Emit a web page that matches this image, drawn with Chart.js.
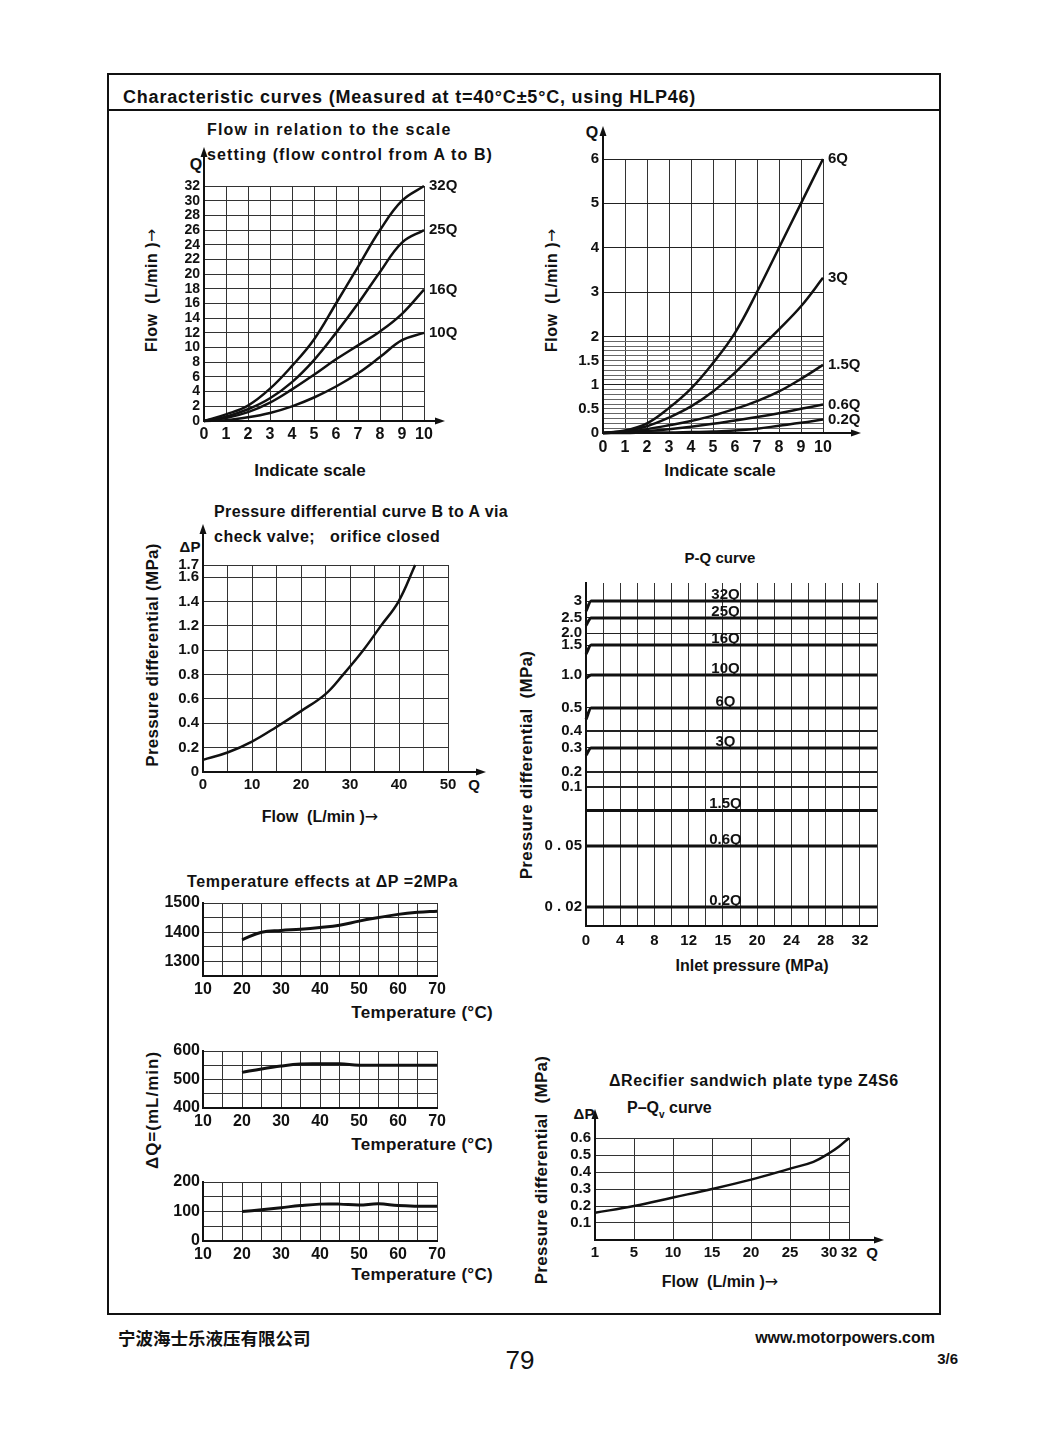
<!DOCTYPE html>
<html>
<head>
<meta charset="utf-8">
<script src="https://cdn.jsdelivr.net/npm/chart.js@4.4.0/dist/chart.umd.min.js"></script>
<style>
body{margin:0;background:#fff;width:1060px;height:1438px;position:relative;font-family:"Liberation Sans",Arial,sans-serif;color:#111;overflow:hidden;}
.frame{position:absolute;left:107px;top:73px;width:830px;height:1238px;border:2px solid #111;}
.sep{position:absolute;left:107px;top:109px;width:834px;border-top:2px solid #111;}
.t{position:absolute;font-weight:bold;font-size:15px;white-space:nowrap;line-height:1;}
.c{transform:translate(-50%,-50%);}
.l{transform:translateY(-50%);}
.rt{transform:translate(-100%,-50%);}
.v{transform:translate(-50%,-50%) rotate(-90deg);}
.ar{font-family:"DejaVu Sans",sans-serif;font-weight:normal;}
canvas{position:absolute;}
</style>
</head>
<body>
<div class="frame"></div>
<div class="sep"></div>
<div class="t l" style="left:123px;top:97px;font-size:18px;letter-spacing:0.8px;">Characteristic curves (Measured at t=40°C±5°C, using HLP46)</div>

<div class="t l" style="left:207px;top:130px;font-size:16px;letter-spacing:1.2px;">Flow in relation to the scale</div>
<div class="t l" style="left:207px;top:155px;font-size:16px;letter-spacing:1.1px;">setting (flow control from A to B)</div>
<div class="t c" style="left:196px;top:165px;font-size:16px;">Q</div>
<div class="t v" style="left:152px;top:290px;font-size:16px;letter-spacing:0.5px;">Flow&nbsp; (L/min )<span class="ar">→</span></div>
<div class="t c" style="left:310px;top:470px;font-size:17px;">Indicate scale</div>

<div class="t c" style="left:592px;top:133px;font-size:16px;">Q</div>
<div class="t v" style="left:552px;top:290px;font-size:16px;letter-spacing:0.5px;">Flow&nbsp; (L/min )<span class="ar">→</span></div>
<div class="t c" style="left:720px;top:470px;font-size:17px;">Indicate scale</div>

<div class="t l" style="left:214px;top:512px;font-size:16px;letter-spacing:0.4px;">Pressure differential curve B to A via</div>
<div class="t l" style="left:214px;top:537px;font-size:16px;letter-spacing:0.5px;">check valve;&nbsp;&nbsp; orifice closed</div>
<div class="t c" style="left:190px;top:546px;">ΔP</div>
<div class="t v" style="left:152px;top:655px;font-size:17px;letter-spacing:0.3px;">Pressure differential (MPa)</div>
<div class="t c" style="left:320px;top:817px;font-size:16px;">Flow&nbsp; (L/min )<span class="ar">→</span></div>
<div class="t c" style="left:474px;top:784px;">Q</div>

<div class="t c" style="left:720px;top:557px;">P-Q curve</div>
<div class="t v" style="left:526px;top:765px;font-size:17px;letter-spacing:0.3px;">Pressure differential&nbsp; (MPa)</div>
<div class="t c" style="left:752px;top:966px;font-size:16px;">Inlet pressure (MPa)</div>

<div class="t l" style="left:187px;top:882px;font-size:16px;letter-spacing:0.6px;">Temperature effects at ΔP =2MPa</div>
<div class="t rt" style="left:493px;top:1012px;font-size:17px;letter-spacing:0.3px;">Temperature (°C)</div>
<div class="t rt" style="left:493px;top:1144px;font-size:17px;letter-spacing:0.3px;">Temperature (°C)</div>
<div class="t rt" style="left:493px;top:1274px;font-size:17px;letter-spacing:0.3px;">Temperature (°C)</div>
<div class="t v" style="left:152px;top:1110px;font-size:17px;letter-spacing:1px;">ΔQ=(mL/min)</div>

<div class="t l" style="left:609px;top:1081px;font-size:16px;letter-spacing:0.6px;">ΔRecifier sandwich plate type Z4S6</div>
<div class="t l" style="left:627px;top:1110px;font-size:16px;">P–Q<sub style="font-size:10px;">v</sub> curve</div>
<div class="t c" style="left:584px;top:1113px;">ΔP</div>
<div class="t v" style="left:541px;top:1170px;font-size:17px;letter-spacing:0.3px;">Pressure differential&nbsp; (MPa)</div>
<div class="t c" style="left:720px;top:1282px;font-size:16px;">Flow&nbsp; (L/min )<span class="ar">→</span></div>
<div class="t c" style="left:872px;top:1252px;">Q</div>

<div class="t l" style="left:118px;top:1338px;font-size:17.5px;font-family:'Noto Sans CJK SC',sans-serif;">宁波海士乐液压有限公司</div>
<div class="t c" style="left:520px;top:1360px;font-size:26px;font-weight:normal;">79</div>
<div class="t rt" style="left:935px;top:1338px;font-size:16px;">www.motorpowers.com</div>
<div class="t rt" style="left:958px;top:1358px;font-size:15px;">3/6</div>

<canvas id="c1"></canvas>
<canvas id="c2"></canvas>
<canvas id="c3"></canvas>
<canvas id="c4"></canvas>
<canvas id="c5"></canvas>
<canvas id="c6"></canvas>
<canvas id="c7"></canvas>
<canvas id="c8"></canvas>

<script>
// flow vs indicate scale, large valve sizes
const scaleSteps = [0, 1, 2, 3, 4, 5, 6, 7, 8, 9, 10];
const flow32Q = [0, 0.9, 2.1, 4.4, 7.5, 11.1, 16, 21, 26, 30, 32];
const flow25Q = [0, 0.6, 1.6, 3.1, 5.3, 8.3, 12, 16, 20.3, 24.3, 26];
const flow16Q = [0, 0.4, 1.2, 2.5, 4.3, 6.3, 8.4, 10.3, 12.2, 14.6, 17.9];
const flow10Q = [0, 0.1, 0.5, 1.1, 2.0, 3.2, 4.7, 6.5, 8.7, 11.0, 12];
const flowTicks = [0, 2, 4, 6, 8, 10, 12, 14, 16, 18, 20, 22, 24, 26, 28, 30, 32];

// flow vs indicate scale, small valve sizes
const flow6Q = [0, 0.05, 0.2, 0.52, 0.92, 1.45, 2.08, 3.0, 4.0, 5.0, 6.0];
const flow3Q = [0, 0.04, 0.14, 0.32, 0.55, 0.86, 1.25, 1.7, 2.16, 2.68, 3.32];
const flow1_5Q = [0, 0.02, 0.08, 0.16, 0.25, 0.36, 0.5, 0.66, 0.86, 1.12, 1.41];
const flow0_6Q = [0, 0.01, 0.04, 0.08, 0.13, 0.19, 0.26, 0.33, 0.41, 0.5, 0.59];
const flow0_2Q = [0, 0, 0.01, 0.01, 0.02, 0.03, 0.05, 0.09, 0.15, 0.21, 0.28];
const smallFlowLabels = [0, 0.5, 1, 1.5, 2, 3, 4, 5, 6];

// check valve B to A
const checkFlow = [0, 5, 10, 15, 20, 25, 28.6, 32.7, 36.3, 39.9, 43.3];
const checkDp = [0.1, 0.16, 0.25, 0.37, 0.5, 0.64, 0.8, 1.0, 1.2, 1.4, 1.7];
const checkDpTicks = [0, 0.2, 0.4, 0.6, 0.8, 1.0, 1.2, 1.4, 1.6, 1.7];

// P-Q curve
const pqNames = ['32Q', '25Q', '16Q', '10Q', '6Q', '3Q', '1.5Q', '0.6Q', '0.2Q'];
const pqLevels = [3, 2.5, 1.5, 1.0, 0.5, 0.3, 0.08, 0.05, 0.02];
const pqStart = [2.7, 2.25, 1.35, 0.95, 0.45, 0.27, 0.08, 0.05, 0.02];
const pqInlet = [0, 0.6, 34];
const pqTicks = [0.02, 0.05, 0.1, 0.2, 0.3, 0.4, 0.5, 1.0, 1.5, 2.0, 2.5, 3];
const pqTickText = ['0 . 02', '0 . 05', '0.1', '0.2', '0.3', '0.4', '0.5', '1.0', '1.5', '2.0', '2.5', '3'];
const inletTicks = [0, 4, 8, 12, 16, 20, 24, 28, 32];
const inletTickText = ['0', '4', '8', '12', '15', '20', '24', '28', '32'];

// temperature effects
const temps = [20, 25, 30, 35, 40, 45, 50, 55, 60, 65, 70];
const flowAt2MPa = [1374, 1400, 1406, 1410, 1416, 1424, 1438, 1450, 1461, 1468, 1472];
const leakUpper = [525, 537, 547, 554, 555, 555, 550, 550, 550, 550, 550];
const leakLower = [100, 106, 113, 120, 125, 125, 122, 126, 120, 118, 118];

// rectifier plate Z4S6
const plateFlow = [1, 5, 10, 15, 20, 25, 28, 30, 31, 32];
const plateDp = [0.16, 0.2, 0.25, 0.3, 0.355, 0.42, 0.46, 0.51, 0.55, 0.6];
const plateFlowTicks = [1, 5, 10, 15, 20, 25, 30, 32];
const plateDpTicks = [0, 0.1, 0.2, 0.3, 0.4, 0.5, 0.6];

Chart.defaults.font.family = '"Liberation Sans", Arial, sans-serif';
Chart.defaults.font.weight = 'bold';
Chart.defaults.font.size = 15;
Chart.defaults.color = '#111';

// scale that maps values through a list of [value, fraction] knots
class PiecewiseScale extends Chart.LinearScale {
    getPixelForValue(value) {
        const k = this.options.knots;
        let f = k[0][1];
        if (value >= k[k.length - 1][0]) f = k[k.length - 1][1];
        else if (value > k[0][0]) {
            for (let i = 1; i < k.length; i++) {
                if (value <= k[i][0]) {
                    const t = (value - k[i - 1][0]) / (k[i][0] - k[i - 1][0]);
                    f = k[i - 1][1] + t * (k[i][1] - k[i - 1][1]);
                    break;
                }
            }
        }
        return this.getPixelForDecimal(f);
    }
    getValueForPixel(pixel) {
        const k = this.options.knots;
        const f = this.getDecimalForPixel(pixel);
        for (let i = 1; i < k.length; i++) {
            if (f <= k[i][1]) {
                const t = (f - k[i - 1][1]) / (k[i][1] - k[i - 1][1]);
                return k[i - 1][0] + t * (k[i][0] - k[i - 1][0]);
            }
        }
        return k[k.length - 1][0];
    }
}
PiecewiseScale.id = 'piecewise';
PiecewiseScale.defaults = Chart.LinearScale.defaults;
Chart.register(PiecewiseScale);

const seriesLabels = {
    id: 'seriesLabels',
    afterDatasetsDraw(chart, args, opts) {
        if (!opts.mode) return;
        const ctx = chart.ctx;
        ctx.save();
        ctx.font = 'bold 15px "Liberation Sans", Arial, sans-serif';
        ctx.fillStyle = '#111';
        chart.data.datasets.forEach((ds, i) => {
            if (!ds.label) return;
            const pts = chart.getDatasetMeta(i).data;
            const last = pts[pts.length - 1];
            if (opts.mode == 'end') {
                ctx.textAlign = 'left';
                ctx.textBaseline = 'middle';
                ctx.fillText(ds.label, last.x + 5, last.y);
            } else {
                ctx.textAlign = 'center';
                ctx.textBaseline = 'bottom';
                ctx.fillText(ds.label, chart.scales.x.getPixelForValue(opts.at), last.y + 1);
            }
        });
        ctx.restore();
    }
};

const axisArrows = {
    id: 'axisArrows',
    afterDraw(chart, args, opts) {
        const a = chart.chartArea;
        const ctx = chart.ctx;
        ctx.save();
        ctx.strokeStyle = '#111';
        ctx.fillStyle = '#111';
        ctx.lineWidth = 2;
        if (opts.up) {
            ctx.beginPath();
            ctx.moveTo(a.left, a.top);
            ctx.lineTo(a.left, a.top - opts.up);
            ctx.stroke();
            ctx.beginPath();
            ctx.moveTo(a.left, a.top - opts.up - 3);
            ctx.lineTo(a.left - 3.5, a.top - opts.up + 7);
            ctx.lineTo(a.left + 3.5, a.top - opts.up + 7);
            ctx.fill();
        }
        if (opts.right) {
            ctx.beginPath();
            ctx.moveTo(a.right, a.bottom);
            ctx.lineTo(a.right + opts.right, a.bottom);
            ctx.stroke();
            ctx.beginPath();
            ctx.moveTo(a.right + opts.right + 3, a.bottom);
            ctx.lineTo(a.right + opts.right - 7, a.bottom - 3.5);
            ctx.lineTo(a.right + opts.right - 7, a.bottom + 3.5);
            ctx.fill();
        }
        ctx.restore();
    }
};

// smooth curve through the read points; flat P-Q lines use monotone so they do not overshoot
const series = (xs, ys, label, width, flat) => ({
    label: label,
    data: xs.map((x, i) => ({x: x, y: ys[i]})),
    borderColor: '#111',
    borderWidth: width || 2.5,
    pointRadius: 0,
    tension: flat ? 0 : 0.4,
    cubicInterpolationMode: flat ? 'monotone' : 'default',
    clip: false
});

const tk = (text, size, pad) => ({
    autoSkip: false, maxRotation: 0, minRotation: 0, padding: pad || 4,
    font: {size: size || 15}, callback: v => text(v)
});

const axis = (min, max, ticks, text, extra) => Object.assign({
    type: 'linear',
    min: min,
    max: max,
    afterBuildTicks: s => { s.ticks = ticks.map(v => ({value: v})); },
    ticks: tk(text),
    grid: {color: '#333', lineWidth: 1, drawTicks: false},
    border: {display: true, color: '#111', width: 2}
}, extra || {});

const near = (list, v) => list.findIndex(l => Math.abs(l - v) < 1e-6);

// box = canvas [left, top, w, h] ; plot = [left, top, right, bottom] in page pixels
function drawChart(id, box, plot, datasets, xAxis, yAxis, plugins) {
    const cv = document.getElementById(id);
    cv.style.left = box[0] + 'px';
    cv.style.top = box[1] + 'px';
    cv.width = box[2];
    cv.height = box[3];
    const yw = plot[0] - box[0];
    const xh = box[1] + box[3] - plot[3];
    xAxis.afterFit = s => { s.height = xh; };
    yAxis.afterFit = s => { s.width = yw; };
    return new Chart(cv, {
        type: 'line',
        data: {datasets: datasets},
        options: {
            responsive: false,
            animation: false,
            events: [],
            layout: {padding: {top: plot[1] - box[1], right: box[0] + box[2] - plot[2], left: 0, bottom: 0}},
            scales: {x: xAxis, y: yAxis},
            plugins: Object.assign({legend: {display: false}, tooltip: {enabled: false}}, plugins)
        },
        plugins: [seriesLabels, axisArrows]
    });
}

// 1. flow in relation to the scale setting
drawChart('c1', [160, 140, 310, 310], [204, 186, 424, 421], [
    series(scaleSteps, flow32Q, '32Q'),
    series(scaleSteps, flow25Q, '25Q'),
    series(scaleSteps, flow16Q, '16Q'),
    series(scaleSteps, flow10Q, '10Q')
], axis(0, 10, scaleSteps, v => String(v), {ticks: tk(v => String(v), 16, 4)}),
   axis(0, 32, flowTicks, v => String(v), {ticks: tk(v => String(v), 14, 4)}),
   {seriesLabels: {mode: 'end'}, axisArrows: {up: 36, right: 18}});

// 2. small sizes
const denseTicks = Array.from({length: 21}, (_, i) => i / 10).concat([3, 4, 5, 6]);
const smallLabel = v => near(smallFlowLabels, v) >= 0 ? String(smallFlowLabels[near(smallFlowLabels, v)]) : '';
drawChart('c2', [560, 110, 320, 355], [603, 159, 823, 433], [
    series(scaleSteps, flow6Q, '6Q'),
    series(scaleSteps, flow3Q, '3Q'),
    series(scaleSteps, flow1_5Q, '1.5Q'),
    series(scaleSteps, flow0_6Q, '0.6Q'),
    series(scaleSteps, flow0_2Q, '0.2Q')
], axis(0, 10, scaleSteps, v => String(v), {ticks: tk(v => String(v), 16, 5)}),
   axis(0, 6, denseTicks, smallLabel, {
       type: 'piecewise',
       knots: [[0, 0], [2, 0.3526], [6, 1]],
       grid: {drawTicks: false, lineWidth: 1,
              color: c => near(smallFlowLabels, c.tick.value) >= 0 && c.tick.value != 0.5 && c.tick.value != 1.5 ? '#222' : '#666'}
   }),
   {seriesLabels: {mode: 'end'}, axisArrows: {up: 30, right: 35}});

// 3. pressure differential B to A
drawChart('c3', [160, 515, 330, 280], [203, 565, 448, 772], [
    series(checkFlow, checkDp, '')
], axis(0, 50, [0, 5, 10, 15, 20, 25, 30, 35, 40, 45, 50], v => v % 10 == 0 ? String(v) : ''),
   axis(0, 1.7, checkDpTicks, v => v == 0 ? '0' : v.toFixed(1)),
   {axisArrows: {up: 38, right: 35}});

// 4. P-Q curve
const pqSets = pqNames.map((n, i) => series(pqInlet, [pqStart[i], pqLevels[i], pqLevels[i]], n, 3, true));
const inletLabel = v => near(inletTicks, v) >= 0 ? inletTickText[near(inletTicks, v)] : '';
drawChart('c4', [530, 565, 355, 385], [586, 583, 877, 926], pqSets,
   axis(0, 34, Array.from({length: 18}, (_, i) => i * 2), inletLabel, {ticks: tk(inletLabel, 15, 6)}),
   axis(0, 3.5, pqTicks, v => near(pqTicks, v) >= 0 ? pqTickText[near(pqTicks, v)] : '', {
       type: 'piecewise',
       knots: [[0, 0], [0.02, 0.0554], [0.05, 0.2332], [0.1, 0.4052], [0.2, 0.449], [0.3, 0.519], [0.4, 0.5685],
               [0.5, 0.6356], [1.0, 0.7318], [1.5, 0.8192], [2.0, 0.8542], [2.5, 0.898], [3, 0.9475], [3.5, 1]],
       grid: {drawTicks: false, color: '#222', lineWidth: c => [0.1, 0.2, 0.4].some(l => Math.abs(l - c.tick.value) < 1e-6) ? 2 : 1}
   }),
   {seriesLabels: {mode: 'above', at: 16.3}});

// 5-7. temperature effects
const tempGrid = [10, 15, 20, 25, 30, 35, 40, 45, 50, 55, 60, 65, 70];
const tempLabel = v => v % 10 == 0 ? String(v) : '';
const hundreds = v => v % 100 == 0 ? String(v) : '';
const tempX = () => axis(10, 70, tempGrid, tempLabel, {ticks: tk(tempLabel, 16, 4)});
drawChart('c5', [160, 885, 290, 115], [203, 903, 439, 976], [series(temps, flowAt2MPa, '', 3)],
   tempX(), axis(1250, 1500, [1250, 1300, 1350, 1400, 1450, 1500], hundreds, {ticks: tk(hundreds, 16, 3)}), {});
drawChart('c6', [160, 1030, 290, 105], [203, 1051, 439, 1108], [series(temps, leakUpper, '', 3)],
   tempX(), axis(400, 600, [400, 450, 500, 550, 600], hundreds, {ticks: tk(hundreds, 16, 3)}), {});
drawChart('c7', [160, 1160, 290, 105], [203, 1182, 439, 1241], [series(temps, leakLower, '', 3)],
   tempX(), axis(0, 200, [0, 50, 100, 150, 200], hundreds, {ticks: tk(hundreds, 16, 3)}), {});

// 8. rectifier sandwich plate
drawChart('c8', [555, 1100, 335, 165], [595, 1138, 849, 1240], [series(plateFlow, plateDp, '')],
   axis(1, 32, plateFlowTicks, v => String(v), {
       type: 'piecewise',
       knots: [[1, 0], [5, 0.1536], [10, 0.3071], [15, 0.4607], [20, 0.6143], [25, 0.7679], [30, 0.9214], [32, 1]]
   }),
   axis(0, 0.6, plateDpTicks, v => v == 0 ? '' : v.toFixed(1)),
   {axisArrows: {up: 26, right: 32}});
</script>
</body>
</html>
